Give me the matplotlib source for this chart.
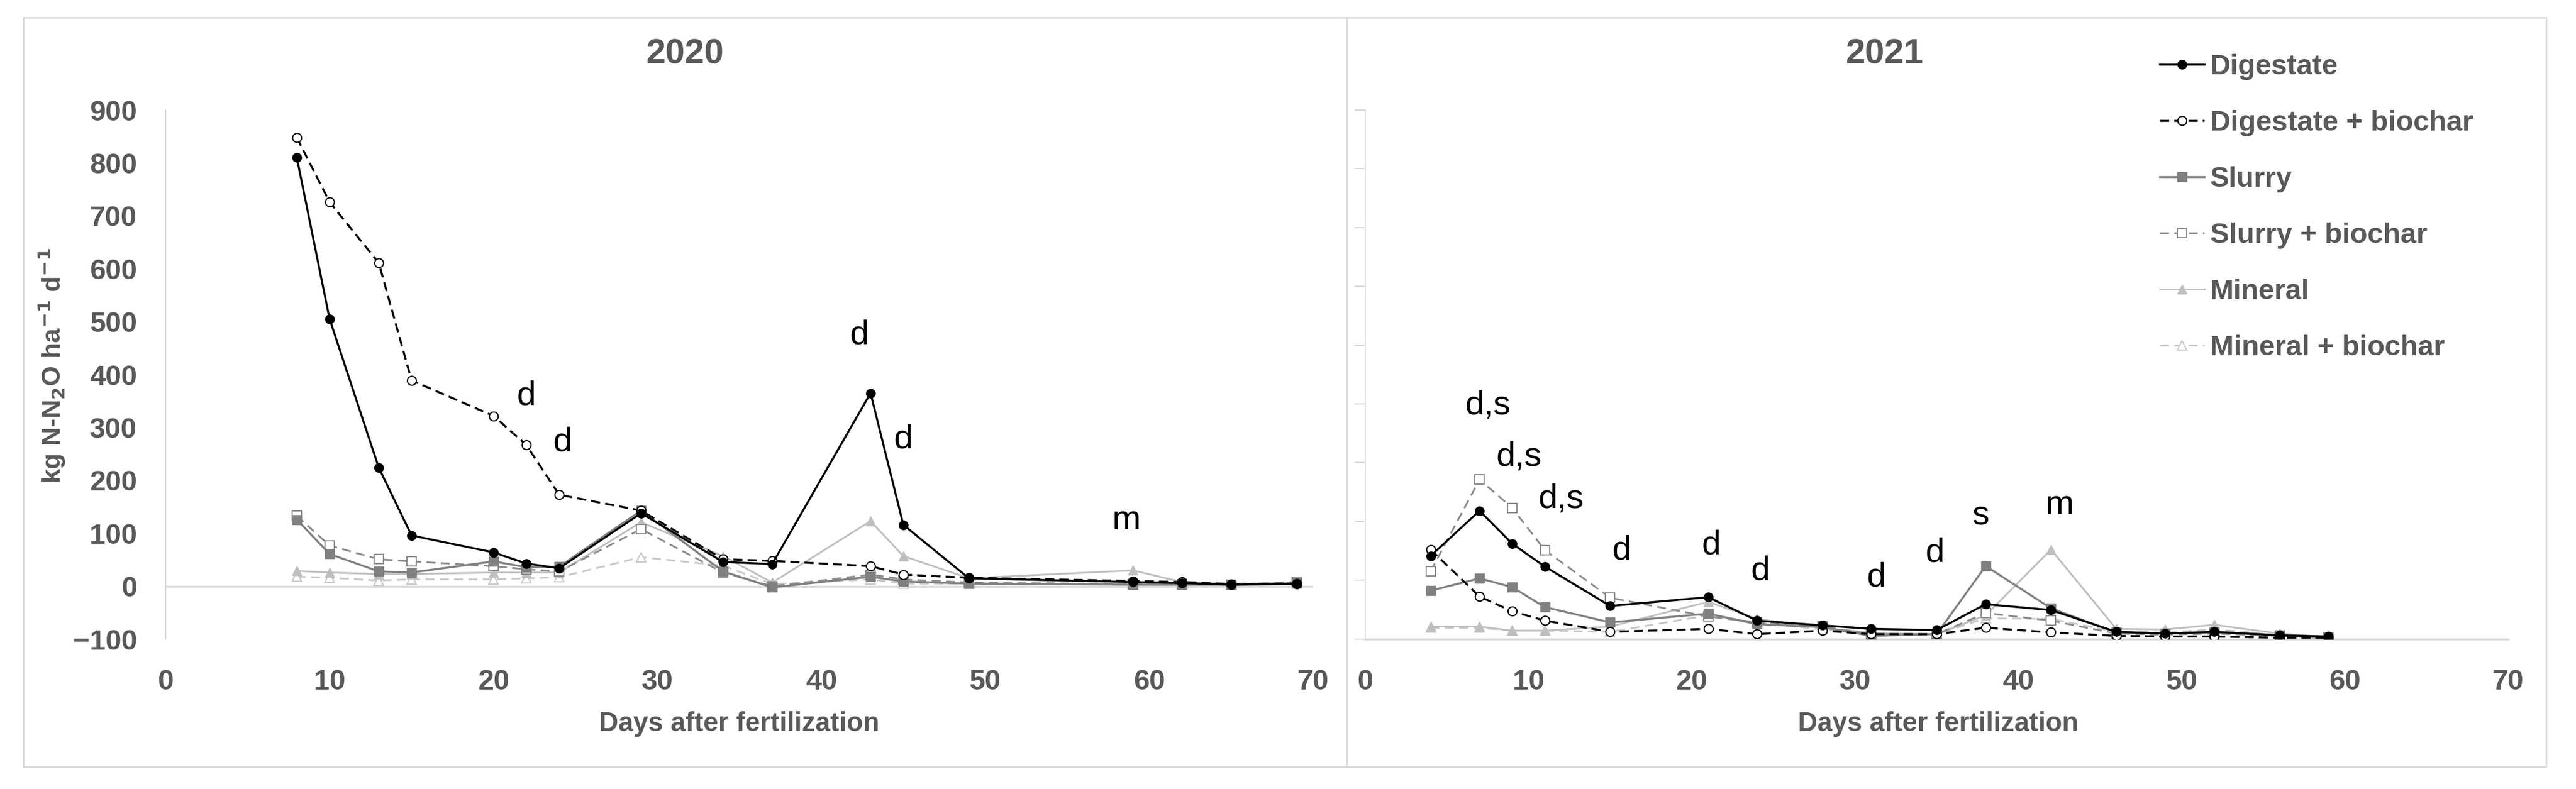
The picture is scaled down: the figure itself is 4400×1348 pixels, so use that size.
import matplotlib
matplotlib.use('Agg')
import matplotlib.pyplot as plt
from matplotlib.patches import Rectangle
from matplotlib.lines import Line2D

# sampling days
days_2020 = [8, 10, 13, 15, 20, 22, 24, 29, 34, 37, 43, 45, 49, 59, 62, 65, 69]
days_2021 = [4, 7, 9, 11, 15, 21, 24, 28, 31, 35, 38, 42, 46, 49, 52, 56, 59]

# N2O fluxes 2020 (kg N-N2O ha-1 d-1)
digestate_2020 = [810, 505, 224, 96, 64, 43, 34, 138, 46, 42, 365, 116, 15, 8, 6, 3, 4]
digestate_bc_2020 = [848, 726, 611, 389, 322, 267, 173, 143, 51, 48, 38, 22, 16, 10, 8, 4, 5]
slurry_2020 = [126, 61, 28, 26, 47, 36, 37, 143, 28, -2, 18, 9, 5, 3, 3, 3, 6]
slurry_bc_2020 = [133, 77, 51, 47, 38, 32, 28, 108, 26, 0, 22, 13, 7, 4, 4, 3, 8]
mineral_2020 = [29, 26, 23, 23, 26, 26, 26, 121, 57, 7, 123, 57, 15, 30, 8, 5, 6]
mineral_bc_2020 = [18, 16, 11, 13, 13, 15, 17, 55, 39, 4, 13, 5, 5, 4, 4, 3, 5]

# N2O fluxes 2021
digestate_2021 = [141, 218, 162, 123, 56, 71, 31, 23, 17, 15, 59, 49, 12, 9, 12, 6, 4]
digestate_bc_2021 = [152, 72, 47, 31, 12, 17, 8, 14, 8, 8, 19, 11, 5, 4, 4, 2, 2]
slurry_2021 = [82, 103, 88, 54, 28, 43, 25, 20, 5, 8, 124, 52, 11, 9, 11, 6, 1]
slurry_bc_2021 = [115, 271, 223, 151, 70, 38, 28, 21, 8, 8, 44, 31, 9, 7, 9, 5, 2]
mineral_2021 = [21, 21, 14, 14, 21, 63, 34, 19, 10, 8, 40, 152, 17, 16, 24, 9, 3]
mineral_bc_2021 = [19, 19, 14, 14, 12, 40, 28, 16, 8, 8, 35, 34, 12, 11, 16, 7, 3]

labels = ['Digestate', 'Digestate + biochar', 'Slurry', 'Slurry + biochar',
          'Mineral', 'Mineral + biochar']

# significance letters (text, day, value)
letters_2020 = [('d', 22, 360), ('d', 24.2, 272), ('d', 42.3, 475),
                ('d', 45, 278), ('m', 58.6, 125)]
letters_2021 = [('d,s', 7.5, 397), ('d,s', 9.4, 310), ('d,s', 12.0, 238),
                ('d', 15.7, 150), ('d', 21.2, 159), ('d', 24.2, 116),
                ('d', 31.3, 105), ('d', 34.9, 146), ('s', 37.7, 209),
                ('m', 42.5, 228)]

W, H = 4400, 1348
GREY_TXT = '#595959'
GRID = '#d9d9d9'
NARROW = ['Liberation Sans Narrow', 'Liberation Sans', 'DejaVu Sans']
SANS = ['Liberation Sans', 'DejaVu Sans']

styles = [
    dict(color='black', ls='-', lw=2.5, marker='o', ms=11, mfc='black', mec='black'),
    dict(color='black', ls=(0, (4.5, 2.5)), lw=2.5, marker='o', ms=11, mfc='white', mec='black', mew=1.5),
    dict(color='#808080', ls='-', lw=2.5, marker='s', ms=11, mfc='#808080', mec='#808080'),
    dict(color='#8c8c8c', ls=(0, (5, 3)), lw=2.2, marker='s', ms=11, mfc='white', mec='#8c8c8c', mew=1.5),
    dict(color='#bfbfbf', ls='-', lw=2.2, marker='^', ms=12, mfc='#bfbfbf', mec='#bfbfbf'),
    dict(color='#c8c8c8', ls=(0, (5, 3)), lw=2.2, marker='^', ms=12, mfc='white', mec='#c8c8c8', mew=1.5),
]


def fx(px):
    return px / W


def fy(py):
    return 1 - py / H


fig = plt.figure(figsize=(W / 100, H / 100), dpi=100)

ax1 = fig.add_axes([fx(283), fy(1092), (2243 - 283) / W, (1092 - 188) / H])
ax2 = fig.add_axes([fx(2332), fy(1091.5), (4284 - 2332) / W, (1091.5 - 188) / H])

series_2020 = [digestate_2020, digestate_bc_2020, slurry_2020, slurry_bc_2020,
               mineral_2020, mineral_bc_2020]
series_2021 = [digestate_2021, digestate_bc_2021, slurry_2021, slurry_bc_2021,
               mineral_2021, mineral_bc_2021]

handles = []
for i, (y20, y21) in enumerate(zip(series_2020, series_2021)):
    st = styles[i]
    h, = ax1.plot(days_2020, y20, zorder=10 - i, **st)
    ax2.plot(days_2021, y21, zorder=10 - i, **st)
    handles.append(h)

# left panel (2020)
ax1.set_xlim(0, 70)
ax1.set_ylim(-100, 900)
ax1.set_xticks(range(0, 71, 10))
ax1.set_yticks(range(-100, 901, 100))
ax1.axhline(0, color=GRID, lw=2.5, zorder=1)
for s in ['top', 'right', 'bottom']:
    ax1.spines[s].set_visible(False)
ax1.spines['left'].set_color(GRID)
ax1.spines['left'].set_linewidth(1.5)
ax1.tick_params(axis='x', length=0, pad=37)
ax1.tick_params(axis='y', length=0, pad=35)

# right panel (2021)
ax2.set_xlim(0, 70)
ax2.set_ylim(0, 900)
ax2.set_xticks(range(0, 71, 10))
ax2.set_yticks(range(0, 901, 100))
for s in ['top', 'right']:
    ax2.spines[s].set_visible(False)
ax2.spines['left'].set_color(GRID)
ax2.spines['bottom'].set_color(GRID)
ax2.spines['left'].set_linewidth(1.5)
ax2.spines['bottom'].set_linewidth(2.5)
ax2.tick_params(axis='x', length=0, pad=37)
ax2.tick_params(axis='y', length=13, width=1.5, color=GRID, labelleft=False)

for ax in (ax1, ax2):
    ax.set_facecolor('none')
    for lab in ax.get_xticklabels() + ax.get_yticklabels():
        lab.set_family(SANS)
        lab.set_fontweight('bold')
        lab.set_fontsize(35)
        lab.set_color(GREY_TXT)

for txt, x, y in letters_2020:
    ax1.text(x, y, txt, ha='center', va='center', fontsize=42, family=SANS, zorder=20)
for txt, x, y in letters_2021:
    ax2.text(x, y, txt, ha='center', va='center', fontsize=42, family=SANS, zorder=20)

# titles and axis labels
fig.text(fx(1170), fy(93), '2020', ha='center', va='center', fontsize=43,
         fontweight='bold', color=GREY_TXT, family=SANS)
fig.text(fx(3219), fy(93), '2021', ha='center', va='center', fontsize=43,
         fontweight='bold', color=GREY_TXT, family=SANS)
fig.text(fx(1263), fy(1237), 'Days after fertilization', ha='center', va='center',
         fontsize=33, fontweight='bold', color=GREY_TXT, family=NARROW)
fig.text(fx(3311), fy(1237), 'Days after fertilization', ha='center', va='center',
         fontsize=33, fontweight='bold', color=GREY_TXT, family=NARROW)
fig.text(fx(89), fy(625), r'kg N-N$_{\mathbf{2}}$O ha$^{\mathbf{-1}}$ d$^{\mathbf{-1}}$',
         rotation=90, ha='center', va='center', fontsize=32, fontweight='bold',
         color=GREY_TXT, family=NARROW)

leg = fig.legend(handles, labels, loc='upper left', bbox_to_anchor=(fx(3689), fy(92)),
                 frameon=False, prop=dict(family=NARROW, weight='bold', size=35),
                 labelcolor=GREY_TXT, handlelength=1.56, handletextpad=0.2,
                 labelspacing=1.05, borderpad=0, borderaxespad=0, numpoints=1)

# chart frames
fig.add_artist(Rectangle((fx(40), fy(1310)), (4349 - 40) / W, (1310 - 30) / H,
                         transform=fig.transFigure, fill=False, ec=GRID, lw=2))
fig.add_artist(Line2D([fx(2301), fx(2301)], [fy(30), fy(1310)],
                      transform=fig.transFigure, color=GRID, lw=1.5))

fig.savefig('out.png', dpi=100, facecolor='white')
